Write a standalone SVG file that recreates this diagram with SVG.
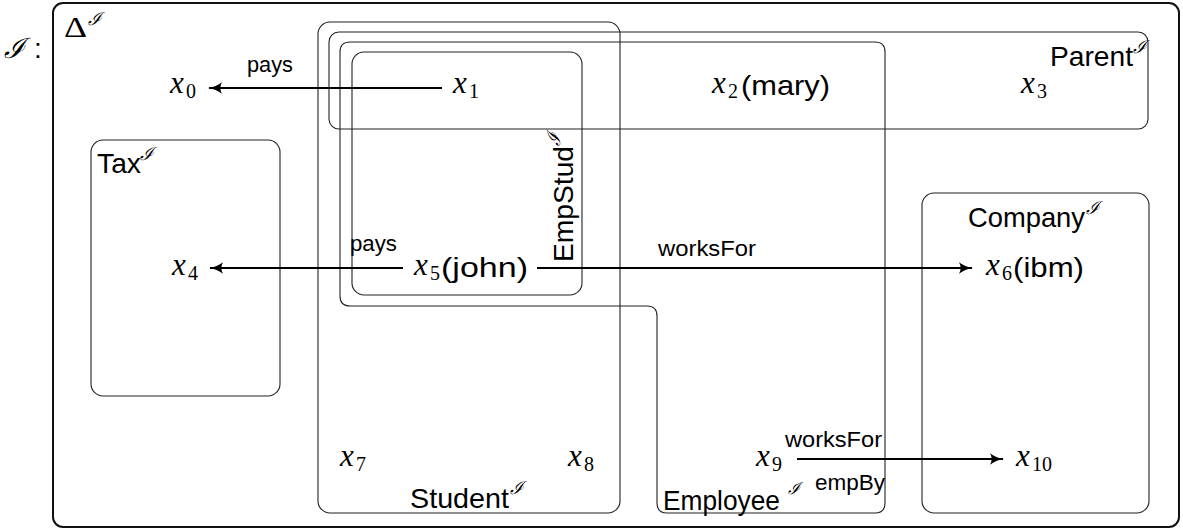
<svg xmlns="http://www.w3.org/2000/svg" width="1183" height="531" viewBox="0 0 1183 531">
<style>
.box{fill:none;stroke:#222;stroke-width:1.1}
.frame{fill:none;stroke:#111;stroke-width:2}
.edge{stroke:#000;stroke-width:2.2;fill:none}
.m{font-family:"Liberation Serif",serif;font-style:italic;font-size:31px;fill:#000}
.sub{font-family:"Liberation Serif",serif;font-size:20px;fill:#000}
.paren{font-family:"Liberation Sans",Arial,sans-serif;font-size:28px;fill:#000}
.s{font-family:"Liberation Sans",Arial,sans-serif;font-size:28px;fill:#000}
.lbl{font-family:"Liberation Sans",Arial,sans-serif;font-size:22px;fill:#000}
.sup{font-family:"DejaVu Serif",serif;font-style:italic;font-size:18px;fill:#000}
.cal{font-family:"DejaVu Serif",serif;font-style:italic;font-size:28px;fill:#000}
.dl{font-family:"Liberation Serif",serif;font-size:30px;fill:#000}
</style>
<defs>
<marker id="arr" viewBox="0 0 12 10" refX="11" refY="5" markerWidth="6.5" markerHeight="5.5" orient="auto" markerUnits="strokeWidth">
<path d="M0,0 Q5,4 12,5 Q5,6 0,10 Q3,5 0,0 Z" fill="#000"/>
</marker>
</defs>
<g id="frame">
<rect class="frame" x="53" y="3" width="1126" height="524" rx="10"/>
<text class="cal" x="4" y="58">ℐ</text>
<text class="s" x="34" y="58">:</text>
<text class="dl" x="64" y="37" textLength="23" lengthAdjust="spacingAndGlyphs">Δ</text>
<text class="sup" x="88" y="25">ℐ</text>
</g>
<g id="Student">
<rect class="box" x="318" y="22" width="302" height="491" rx="12"/>
<text class="s" x="410" y="508" textLength="99" lengthAdjust="spacingAndGlyphs">Student</text>
<text class="sup" x="510" y="494">ℐ</text>
</g>
<g id="Parent">
<rect class="box" x="329" y="32" width="819" height="97" rx="10"/>
<text class="s" x="1050" y="66" textLength="83" lengthAdjust="spacingAndGlyphs">Parent</text>
<text class="sup" x="1133" y="53">ℐ</text>
</g>
<g id="Employee">
<path class="box" d="M350,42 H875 Q885,42 885,52 V503 Q885,513 875,513 H667 Q657,513 657,503 V316 Q657,306 647,306 H350 Q340,306 340,296 V52 Q340,42 350,42 Z"/>
<text class="s" x="663" y="510" textLength="117" lengthAdjust="spacingAndGlyphs">Employee</text>
<text class="sup" x="788" y="494" style="font-size:16px">ℐ</text>
</g>
<g id="EmpStud">
<rect class="box" x="352" y="52" width="230" height="243" rx="12"/>
<text class="s" transform="translate(573,262) rotate(-90)" textLength="116" lengthAdjust="spacingAndGlyphs">EmpStud</text>
<text class="sup" transform="translate(560,146) rotate(-90)">ℐ</text>
</g>
<g id="Tax">
<rect class="box" x="91" y="140" width="189" height="256" rx="12"/>
<text class="s" x="97" y="173" textLength="44" lengthAdjust="spacingAndGlyphs">Tax</text>
<text class="sup" x="140" y="160">ℐ</text>
</g>
<g id="Company">
<rect class="box" x="922" y="193" width="227" height="320" rx="12"/>
<text class="s" x="968" y="227" textLength="117" lengthAdjust="spacingAndGlyphs">Company</text>
<text class="sup" x="1086" y="214">ℐ</text>
</g>
<g id="x0"><text class="m" x="170" y="93">x</text><text class="sub" x="186" y="98">0</text></g>
<g id="x1"><text class="m" x="453" y="93">x</text><text class="sub" x="469" y="98">1</text></g>
<g id="x2"><text class="m" x="712" y="93">x</text><text class="sub" x="728" y="98">2</text><text class="paren" x="741" y="95" textLength="89" lengthAdjust="spacingAndGlyphs">(mary)</text></g>
<g id="x3"><text class="m" x="1021" y="93">x</text><text class="sub" x="1037" y="98">3</text></g>
<g id="x4"><text class="m" x="172" y="275">x</text><text class="sub" x="188" y="280">4</text></g>
<g id="x5"><text class="m" x="414" y="275">x</text><text class="sub" x="430" y="280">5</text><text class="paren" x="441" y="277" textLength="87" lengthAdjust="spacingAndGlyphs">(john)</text></g>
<g id="x6"><text class="m" x="986" y="275">x</text><text class="sub" x="1002" y="280">6</text><text class="paren" x="1013" y="277" textLength="71" lengthAdjust="spacingAndGlyphs">(ibm)</text></g>
<g id="x7"><text class="m" x="340" y="466">x</text><text class="sub" x="356" y="471">7</text></g>
<g id="x8"><text class="m" x="568" y="466">x</text><text class="sub" x="584" y="471">8</text></g>
<g id="x9"><text class="m" x="756" y="466">x</text><text class="sub" x="772" y="471">9</text></g>
<g id="x10"><text class="m" x="1016" y="466">x</text><text class="sub" x="1032" y="471">10</text></g>
<g id="connectors">
<line class="edge" x1="442" y1="88" x2="209" y2="88" marker-end="url(#arr)"/>
<text class="lbl" x="247" y="72" textLength="46" lengthAdjust="spacingAndGlyphs">pays</text>
<line class="edge" x1="403" y1="268" x2="210" y2="268" marker-end="url(#arr)"/>
<text class="lbl" x="350" y="251" textLength="47" lengthAdjust="spacingAndGlyphs">pays</text>
<line class="edge" x1="537" y1="268" x2="972" y2="268" marker-end="url(#arr)"/>
<text class="lbl" x="658" y="256" textLength="98" lengthAdjust="spacingAndGlyphs">worksFor</text>
<line class="edge" x1="797" y1="459" x2="1003" y2="459" marker-end="url(#arr)"/>
<text class="lbl" x="785" y="447" textLength="97" lengthAdjust="spacingAndGlyphs">worksFor</text>
<text class="lbl" x="815" y="490" textLength="70" lengthAdjust="spacingAndGlyphs">empBy</text>
</g>
</svg>
